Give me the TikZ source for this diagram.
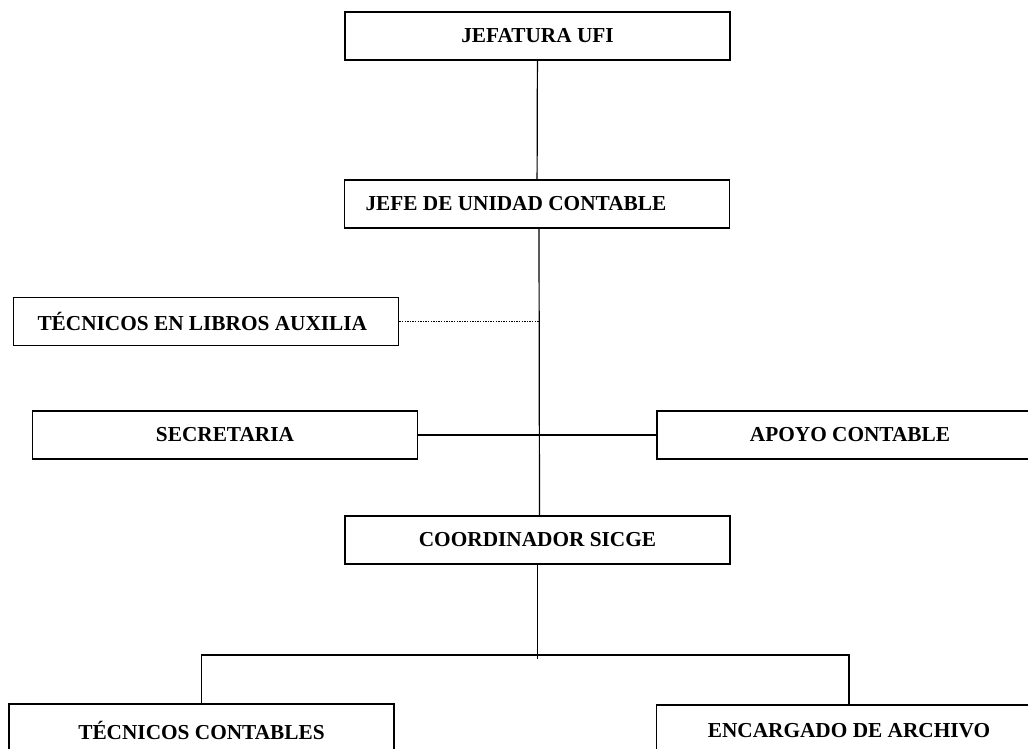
\documentclass[tikz,border=0pt]{standalone}
\usepackage{fontspec}
\setmainfont{Liberation Serif}
\usepackage{tikz}
\usetikzlibrary{positioning, calc}
\tikzstyle{unit} = [rectangle, draw, line width=1.8pt, minimum width=385pt, minimum height=48pt, inner sep=0pt, text centered, font=\fontsize{21.3}{25}\selectfont\bfseries]
\tikzstyle{unitleft} = [unit, align=flush left, text width=343pt, inner xsep=21pt]
\tikzstyle{link} = [draw, line width=1.2pt]
\tikzstyle{dotlink} = [draw, line width=1.7pt, dash pattern=on 1.3pt off 1.3pt]

\begin{document}
\begin{tikzpicture}[x=1pt, y=-1pt]
    \useasboundingbox (0,0) rectangle (1028,748);
    \clip (0,0) rectangle (1028,748);

    \node (ufi) [unit] at (537.5,36) {JEFATURA UFI};
    \node (jefe) [unitleft] at (537,204) {JEFE DE UNIDAD CONTABLE};
    \node (libros) [unitleft, inner xsep=24pt, text width=337pt] at (206,321.5) {TÉCNICOS EN LIBROS AUXILIA};
    \node (secretaria) [unit] at (225,435) {SECRETARIA};
    \node (apoyo) [unit, minimum width=386pt] at (850,435) {APOYO CONTABLE};
    \node (coord) [unit] at (537.5,540) {COORDINADOR SICGE};
    \node (tcont) [unit, minimum height=52pt] at (201.5,730) {TÉCNICOS CONTABLES};
    \node (archivo) [unit, minimum height=52pt] at (849,731) {ENCARGADO DE ARCHIVO};

    % bus below the coordinator
    \coordinate (split) at (537.5,655);
    \coordinate (busend) at (537.5,659);

    \draw [link] (ufi) -- (jefe);
    \draw [link] ([xshift=2pt]jefe.south) -- ([xshift=2pt]coord.north);
    \draw [dotlink] (libros.east) -- ([xshift=2pt]libros.east -| jefe.south);
    \draw [link] (secretaria) -- (apoyo);
    \draw [link] (coord.south) -- (busend);
    \draw [link] (tcont.north) |- (split) -| (archivo.north);
\end{tikzpicture}
\end{document}
